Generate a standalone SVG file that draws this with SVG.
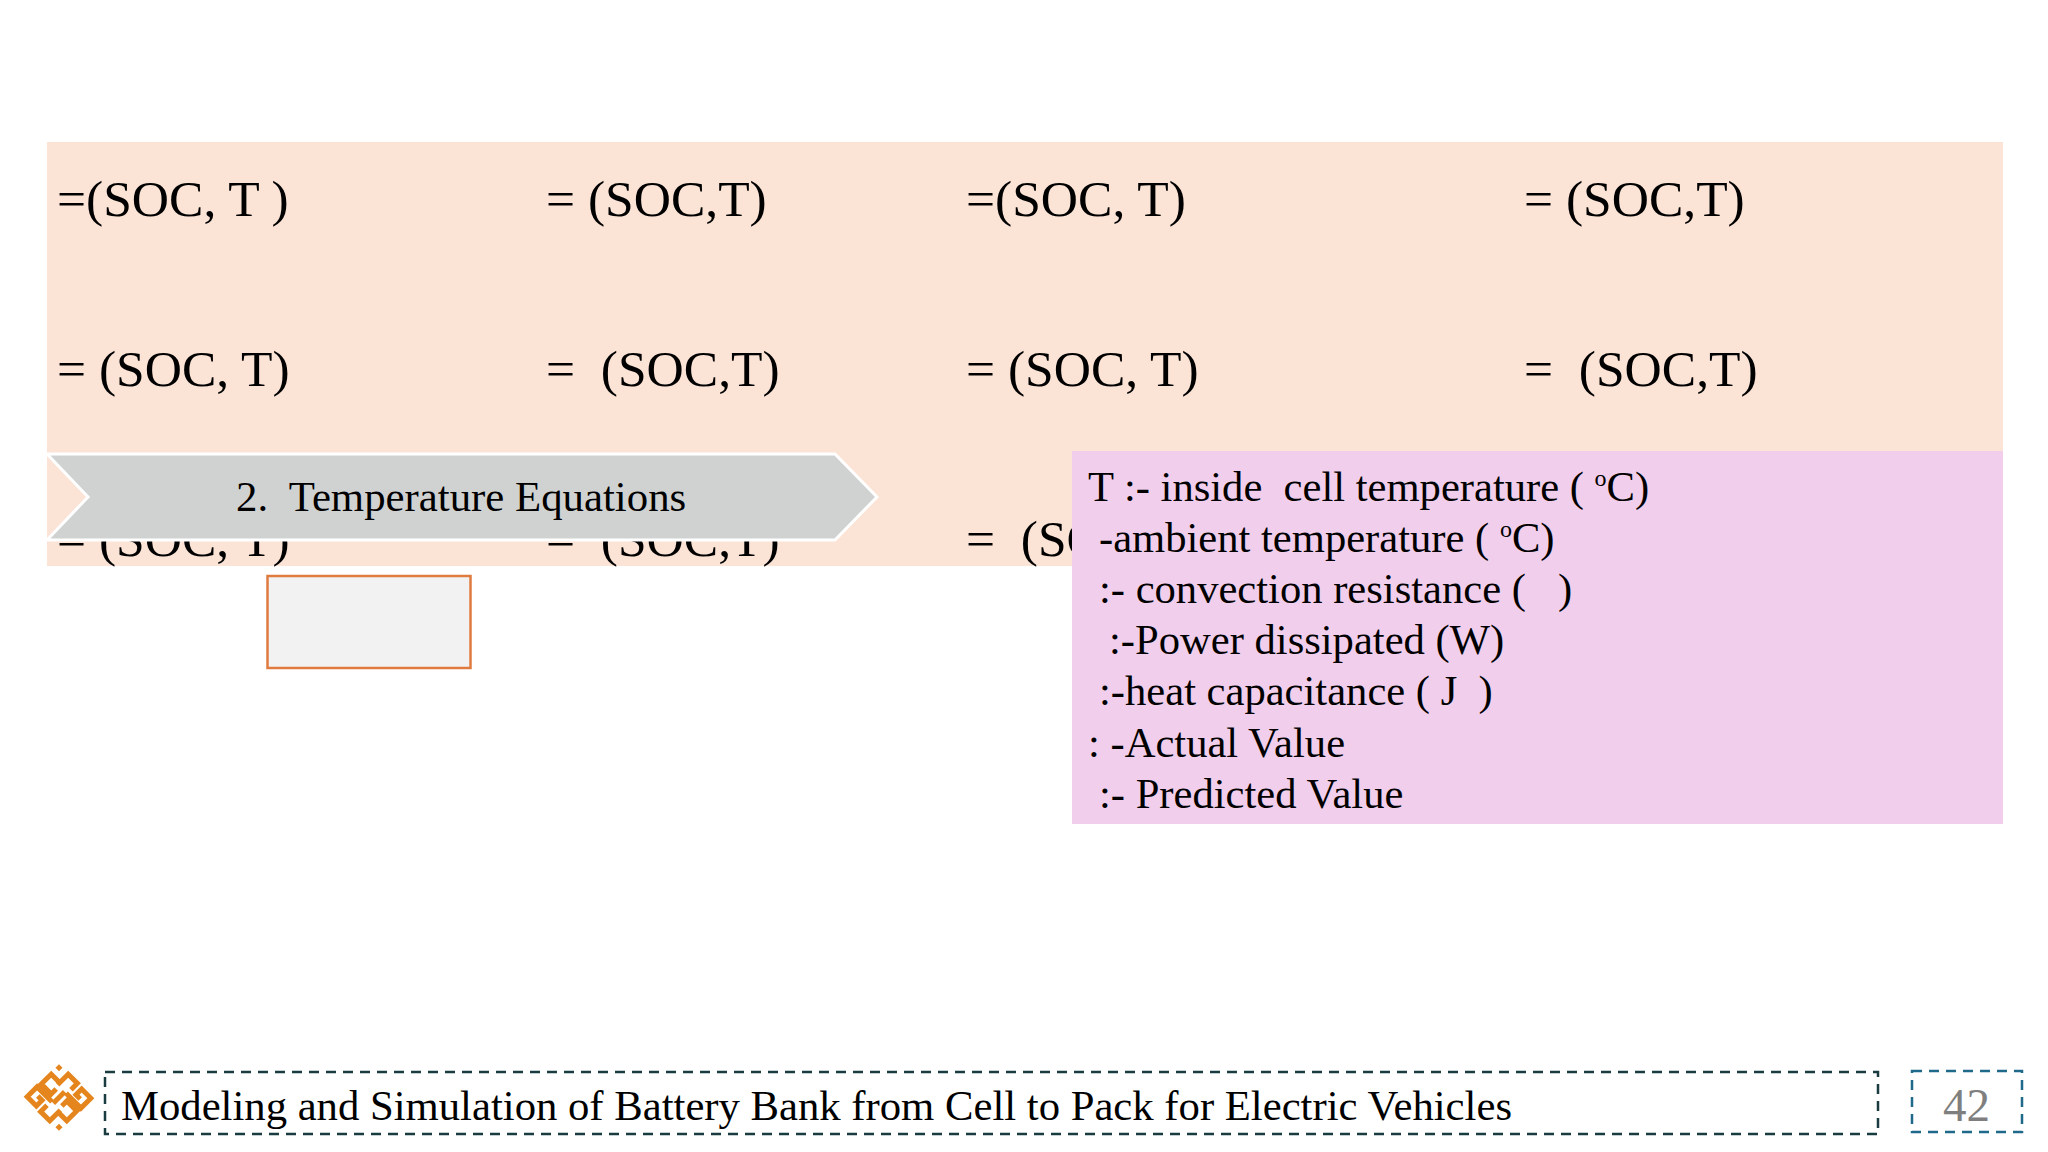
<svg xmlns="http://www.w3.org/2000/svg" width="2048" height="1152" viewBox="0 0 2048 1152">
<style>
text{font-family:"Liberation Serif","Times New Roman",serif;fill:#000}
.eq{font-size:51.5px}
.d{font-size:42.6px}
.s{font-size:24px}
.logo{fill:none;stroke:#e5851e;stroke-width:5}
.dot{fill:#e5851e}
.f{fill:none;stroke-width:2.5;stroke-dasharray:10 7}
</style>
<rect width="2048" height="1152" fill="#fff"/>
<g id="equations-panel">
<rect x="47" y="142" width="1956" height="424" fill="#fbe3d6"/>
<text class="eq" x="57" y="216">=(SOC, T )</text>
<text class="eq" x="546" y="216">= (SOC,T)</text>
<text class="eq" x="966" y="216">=(SOC, T)</text>
<text class="eq" x="1524" y="216">= (SOC,T)</text>
<text class="eq" x="57" y="386" xml:space="preserve">= (SOC, T)</text>
<text class="eq" x="546" y="386" xml:space="preserve">=  (SOC,T)</text>
<text class="eq" x="966" y="386" xml:space="preserve">= (SOC, T)</text>
<text class="eq" x="1524" y="386" xml:space="preserve">=  (SOC,T)</text>
<text class="eq" x="57" y="556" xml:space="preserve">= (SOC, T)</text>
<text class="eq" x="546" y="556" xml:space="preserve">=  (SOC,T)</text>
<text class="eq" x="966" y="556" xml:space="preserve">=  (SOC, T)</text>
</g>
<g id="section-chevron">
<polygon points="47,454 835,454 877,497 835,540 47,540 88,497" fill="#d0d2d2" stroke="#fff" stroke-width="3"/>
<text x="236" y="511" font-size="42.800" xml:space="preserve">2.  Temperature Equations</text>
</g>
<g id="empty-box">
<rect x="267.500" y="576" width="203" height="92" fill="#f2f2f2" stroke="#e07b3f" stroke-width="2.500"/>
</g>
<g id="legend">
<rect x="1072" y="451" width="931" height="373" fill="#f1cfec"/>
<text class="d" x="1088" y="501" xml:space="preserve">T :- inside  cell temperature ( <tspan class="s" dy="-15">o</tspan><tspan dy="15">C)</tspan></text>
<text class="d" x="1099" y="552" xml:space="preserve">-ambient temperature ( <tspan class="s" dy="-15">o</tspan><tspan dy="15">C)</tspan></text>
<text class="d" x="1099" y="603" xml:space="preserve">:- convection resistance (   )</text>
<text class="d" x="1109" y="654" xml:space="preserve">:-Power dissipated (W)</text>
<text class="d" x="1099" y="705" xml:space="preserve">:-heat capacitance ( J  )</text>
<text class="d" x="1088" y="757" xml:space="preserve">: -Actual Value</text>
<text class="d" x="1099" y="808" xml:space="preserve">:- Predicted Value</text>
</g>
<g id="logo" transform="translate(59 1097.500) rotate(45)">
<path class="logo" d="M2,-8 H23 V-22 H10 V-14 H16 M-2,8 H-23 V22 H-10 V14 H-16 M3,-14 V-23 H-10 V-8 M-9,-11 H-22 V3 H-8 V-4 M-3,14 V23 H10 V8 M9,11 H22 V-3 H8 V4 M0,-8 V8"/>
<rect class="dot" x="-22.500" y="-22.500" width="5" height="5" transform="translate(-1 -1)"/>
<rect class="dot" x="17.500" y="17.500" width="5" height="5" transform="translate(1 1)"/>
</g>
<g id="footer">
<rect class="f" x="105" y="1072" width="1773" height="62" stroke="#1a3c40"/>
<text x="121" y="1120" font-size="42.700">Modeling and Simulation of Battery Bank from Cell to Pack for Electric Vehicles</text>
</g>
<g id="page-number">
<rect class="f" x="1912" y="1071" width="110" height="61" stroke="#1f6a8a"/>
<text x="1943" y="1121" font-size="47" style="fill:#7f7f7f">42</text>
</g>
</svg>
